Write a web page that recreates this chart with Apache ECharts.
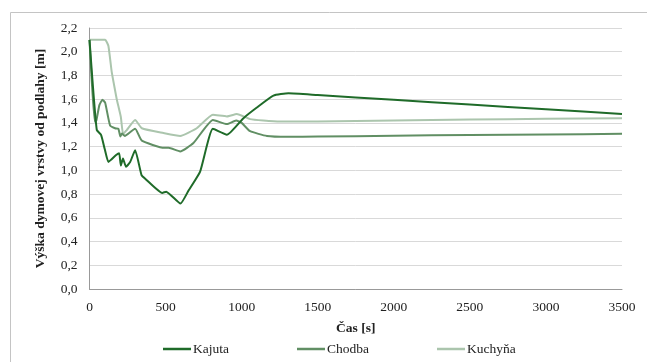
<!DOCTYPE html>
<html>
<head>
<meta charset="utf-8">
<script src="https://cdn.jsdelivr.net/npm/echarts@6/dist/echarts.min.js"></script>
<style>
  html, body { margin: 0; padding: 0; background: #ffffff; }
  #chart { width: 647px; height: 362px; }
</style>
</head>
<body>
<div id="chart"></div>
<script>
// Smoke layer height above the floor [m] versus time [s]
const seriesNames = ['Kajuta', 'Chodba', 'Kuchyňa'];

const kajuta = [
  [0, 2.10], [20, 1.75], [48, 1.34], [76, 1.30], [100, 1.18], [124, 1.07], [142, 1.09],
  [175, 1.13], [195, 1.145], [206, 1.04], [220, 1.10], [240, 1.03], [267, 1.07],
  [300, 1.17], [342, 0.96], [366, 0.93], [478, 0.81], [504, 0.82], [598, 0.72],
  [651, 0.83], [727, 0.99], [811, 1.35], [903, 1.30], [1012, 1.44], [1100, 1.53],
  [1209, 1.63], [1308, 1.65], [1500, 1.635], [2000, 1.595], [2500, 1.555],
  [3000, 1.515], [3500, 1.475]
];

const chodba = [
  [0, 2.10], [15, 1.75], [35, 1.41], [45, 1.42], [65, 1.55], [85, 1.595], [103, 1.57],
  [135, 1.38], [168, 1.355], [190, 1.35], [203, 1.285], [213, 1.31], [234, 1.29],
  [245, 1.30], [300, 1.35], [344, 1.25], [490, 1.19], [520, 1.19], [596, 1.16],
  [683, 1.23], [811, 1.425], [903, 1.39], [964, 1.42], [1000, 1.40], [1056, 1.33],
  [1166, 1.29], [1300, 1.283], [1500, 1.285], [2000, 1.292], [2500, 1.298],
  [3000, 1.303], [3500, 1.308]
];

const kuchyna = [
  [0, 2.10], [50, 2.10], [103, 2.10], [124, 2.05], [146, 1.83], [160, 1.73],
  [179, 1.60], [206, 1.45], [221, 1.305], [245, 1.34], [300, 1.425], [344, 1.355],
  [486, 1.315], [596, 1.29], [705, 1.355], [811, 1.468], [903, 1.455], [968, 1.475],
  [1056, 1.432], [1143, 1.42], [1253, 1.412], [1500, 1.412], [2000, 1.42],
  [2500, 1.428], [3000, 1.435], [3500, 1.44]
];

const seriesColors = ['#1f6b29', '#618f64', '#abc5ad'];

const chart = echarts.init(document.getElementById('chart'), null, { renderer: 'canvas' });

const serifFont = '"Liberation Serif", "Times New Roman", serif';

chart.setOption({
  animation: false,
  backgroundColor: '#ffffff',
  graphic: [{
    type: 'rect',
    shape: { x: 10.5, y: 12.5, width: 700, height: 400 },
    style: { fill: 'none', stroke: '#c4c4c4', lineWidth: 1 },
    silent: true,
    z: -10
  }],
  grid: { left: 89.5, right: 25, top: 28, bottom: 73, containLabel: false },
  legend: {
    data: seriesNames,
    left: 163,
    top: 342,
    padding: 0,
    itemWidth: 28,
    itemHeight: 2.5,
    itemGap: 68,
    icon: 'rect',
    textStyle: { fontFamily: serifFont, fontSize: 13.5, color: '#222', padding: [0, 0, 0, -3] }
  },
  xAxis: {
    type: 'value',
    min: 0,
    max: 3500,
    interval: 500,
    name: 'Čas [s]',
    nameLocation: 'middle',
    nameGap: 33,
    nameTextStyle: { fontFamily: serifFont, fontSize: 13.5, fontWeight: 'bold', color: '#222' },
    axisLine: { show: true, lineStyle: { color: '#999999', width: 1 } },
    axisTick: { show: false },
    splitLine: { show: false },
    axisLabel: {
      fontFamily: serifFont, fontSize: 13.5, color: '#222', margin: 11,
      formatter: v => String(v)
    }
  },
  yAxis: {
    type: 'value',
    min: 0,
    max: 2.2,
    interval: 0.2,
    name: 'Výška dymovej vrstvy od podlahy [m]',
    nameLocation: 'middle',
    nameGap: 42,
    nameTextStyle: { fontFamily: serifFont, fontSize: 13.5, fontWeight: 'bold', color: '#222' },
    axisLine: { show: true, lineStyle: { color: '#999999', width: 1 } },
    axisTick: { show: false },
    splitLine: { show: true, lineStyle: { color: '#d9d9d9', width: 1 } },
    axisLabel: {
      fontFamily: serifFont, fontSize: 13.5, color: '#222', margin: 12,
      formatter: v => v.toFixed(1).replace('.', ',')
    }
  },
  series: [
    { name: seriesNames[0], data: kajuta },
    { name: seriesNames[1], data: chodba },
    { name: seriesNames[2], data: kuchyna }
  ].map((s, i) => ({
    type: 'line',
    name: s.name,
    data: s.data,
    showSymbol: false,
    symbol: 'none',
    smooth: 0.15,
    color: seriesColors[i],
    lineStyle: { color: seriesColors[i], width: 2 },
    z: 3 - i
  }))
});
</script>
</body>
</html>
